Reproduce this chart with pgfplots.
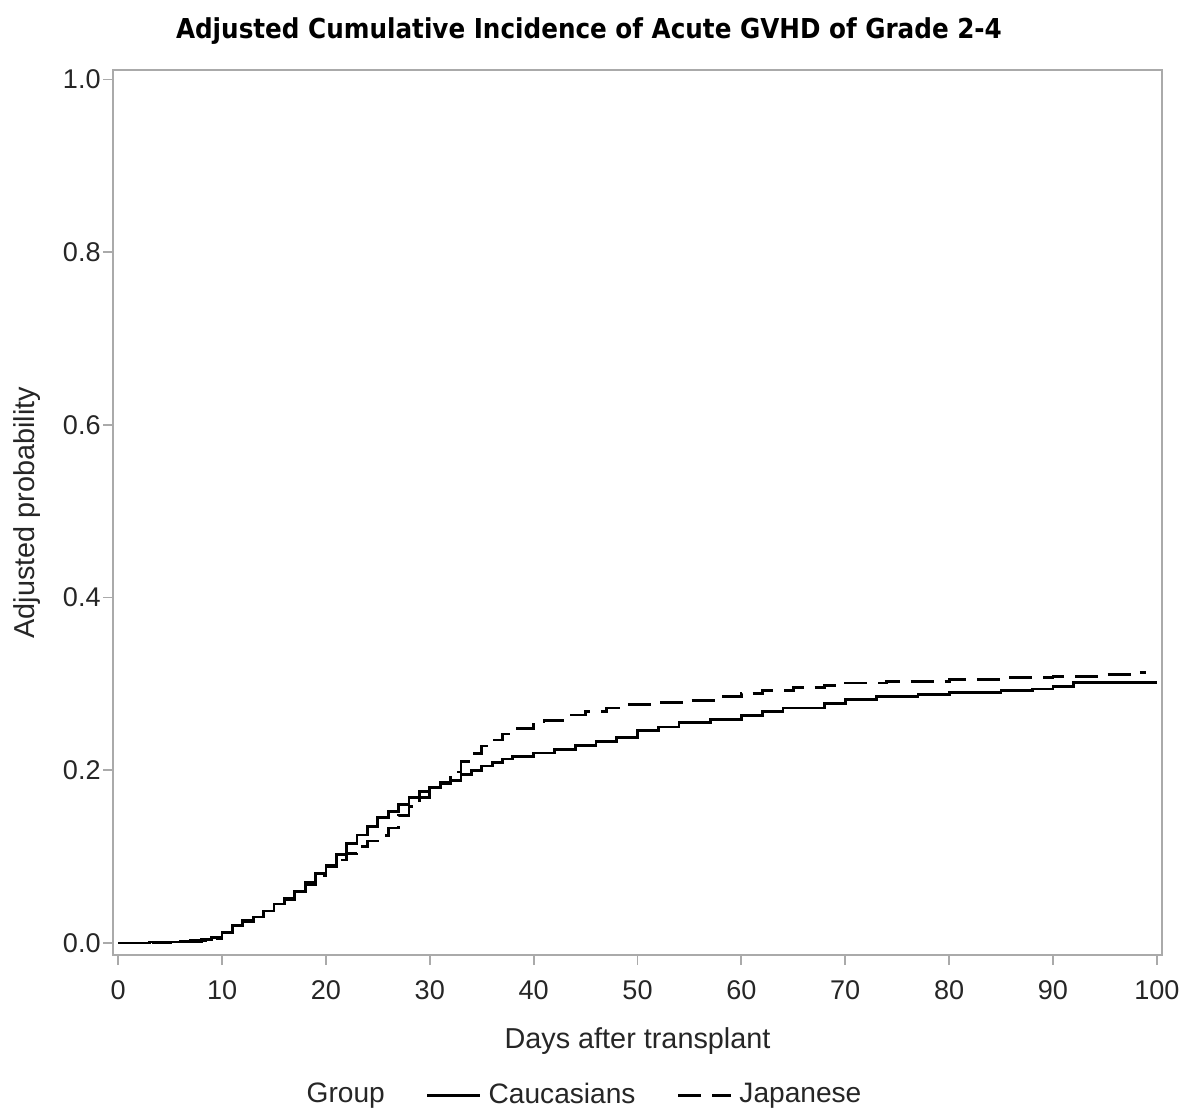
\documentclass[border=0pt]{standalone}
\usepackage{pgfplots}
\pgfplotsset{compat=1.18}
\usepackage{fontspec}
\setmainfont{Liberation Sans}
\newfontfamily\titlefont{DejaVu Sans Condensed}
\definecolor{framegray}{RGB}{170,170,170}
\begin{document}
\begin{tikzpicture}[x=1mm,y=1mm]
\path[use as bounding box] (0,0) rectangle (120.2,111.5);
\begin{axis}[
  at={(11.3mm,16mm)}, anchor=south west,
  scale only axis, width=104.9mm, height=88.5mm,
  xmin=-0.5, xmax=100.5, ymin=-0.014, ymax=1.011,
  xtick={0,10,...,100}, ytick={0,0.2,...,1.0},
  xtick pos=bottom, ytick pos=left,
  yticklabel style={/pgf/number format/fixed, /pgf/number format/fixed zerofill, /pgf/number format/precision=1, xshift=1.0mm},
  /pgf/number format/assume math mode=true,
  tick align=outside, tick style={framegray, line width=0.5pt},
  major tick length=1mm,
  axis line style={framegray, line width=0.8pt},
  ticklabel style={font=\fontsize{7.7}{9}\selectfont, text=black!85},
  xticklabel style={yshift=-0.3mm},
  xlabel={Days after transplant}, ylabel={Adjusted probability},
  label style={font=\fontsize{8.2}{10}\selectfont, text=black!85},
  xlabel style={at={(axis description cs:0.5,-0.097)}, anchor=center},
  ylabel style={at={(axis description cs:-0.082,0.5)}, anchor=center},
  legend style={at={(axis description cs:0.449,-0.159)}, anchor=center, draw=none, legend columns=-1,
    font=\fontsize{8}{10}\selectfont, text=black!85,
    /tikz/every even column/.append style={column sep=3.4mm}},
  legend cell align=left,
  legend image code/.code={\draw[#1] (0mm,0mm) -- (5.3mm,0mm);},
]
\addlegendimage{empty legend}
\addlegendentry{Group}
\addplot[const plot, black, line width=0.8pt] coordinates {
(0,0) (3,0.001) (6,0.002) (8,0.004) (9,0.006) (10,0.012) (11,0.02) (12,0.026)
(13,0.03) (14,0.037) (15,0.045) (16,0.052) (17,0.06) (18,0.07) (19,0.08)
(20,0.09) (21,0.102) (22,0.115) (23,0.125) (24,0.135) (25,0.145) (26,0.152)
(27,0.16) (28,0.168) (29,0.175) (30,0.18) (31,0.185) (32,0.188) (33,0.195)
(34,0.2) (35,0.205) (36,0.209) (37,0.213) (38,0.216) (40,0.22) (42,0.224)
(44,0.229) (46,0.233) (48,0.238) (50,0.246) (52,0.25) (54,0.255) (57,0.259)
(60,0.263) (62,0.268) (64,0.272) (68,0.277) (70,0.282) (73,0.285) (77,0.288)
(80,0.29) (85,0.292) (88,0.294) (90,0.297) (92,0.302) (100,0.302)
};
\addlegendentry{Caucasians}
\addplot[const plot, black, line width=0.8pt, dash pattern=on 2.3mm off 1.1mm] coordinates {
(0,0) (5,0.001) (7,0.003) (9,0.005) (10,0.012) (11,0.02) (12,0.025)
(13,0.03) (14,0.037) (15,0.045) (16,0.05) (17,0.058) (18,0.067) (19,0.078)
(20,0.088) (21,0.096) (22,0.104) (23,0.112) (24,0.118) (25,0.124) (26,0.133)
(27,0.148) (28,0.158) (29,0.168) (30,0.176) (31,0.186) (32,0.198) (33,0.21)
(34,0.219) (35,0.228) (36,0.235) (37,0.242) (38,0.248) (40,0.253) (41,0.258)
(43,0.264) (45,0.268) (47,0.272) (49,0.276) (52,0.278) (55,0.281) (58,0.285)
(60,0.289) (62,0.292) (65,0.296) (68,0.298) (70,0.301) (74,0.303) (80,0.305)
(85,0.307) (90,0.309) (95,0.311) (98,0.313) (99,0.313)
};
\addlegendentry{Japanese}
\end{axis}
\node[font=\titlefont\bfseries\fontsize{7.8}{9}\selectfont] at (58.9,108.4) {Adjusted Cumulative Incidence of Acute GVHD of Grade 2-4};
\end{tikzpicture}
\end{document}
